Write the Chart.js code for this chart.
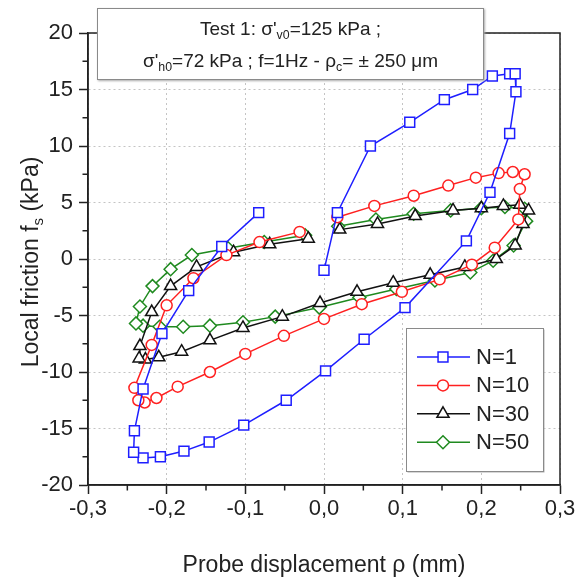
<!DOCTYPE html>
<html>
<head>
<meta charset="utf-8">
<script src="https://cdn.jsdelivr.net/npm/chart.js@4.4.1/dist/chart.umd.min.js"></script>
<style>
    html, body { margin: 0; padding: 0; background: #fff; }
    #wrap { position: relative; width: 579px; height: 580px; }
    #infoBox {
        position: absolute; left: 97px; top: 8px; width: 387px; height: 72px;
        box-sizing: border-box; border: 1px solid #8a8a8a; box-shadow: 1px 1px 2px #aaa;
        background: #fff; text-align: center; padding-top: 4px;
        font-family: "Liberation Sans", Arial, sans-serif; font-size: 19px; line-height: 32px; color: #222;
    }
    #infoBox sub, #yTitle sub { font-size: 0.65em; vertical-align: -0.35em; line-height: 0; }
    #yTitle {
        position: absolute; left: -120px; top: 248px; width: 300px; height: 28px;
        text-align: center; line-height: 28px; transform: rotate(-90deg);
        font-family: "Liberation Sans", Arial, sans-serif; font-size: 23px; color: #222;
    }
</style>
</head>
<body>
<div id="wrap">
    <canvas id="chart" width="579" height="580"></canvas>
    <div id="infoBox">
        <div>Test 1: σ'<sub>v0</sub>=125 kPa ;</div>
        <div>σ'<sub>h0</sub>=72 kPa ; f=1Hz - ρ<sub>c</sub>= ± 250 μm</div>
    </div>
    <div id="yTitle">Local friction f<sub>s</sub> (kPa)</div>
</div>
<script>
const family = '"Liberation Sans", Arial, sans-serif';

// axes
const xTicks = [-0.3, -0.2, -0.1, 0, 0.1, 0.2, 0.3];
const yTicks = [-20, -15, -10, -5, 0, 5, 10, 15, 20];
const xMinorTicks = [-0.25, -0.15, -0.05, 0.05, 0.15, 0.25];
const yMinorTicks = [-17.5, -12.5, -7.5, -2.5, 2.5, 7.5, 12.5, 17.5];

// series
const seriesNames = ['N=1', 'N=10', 'N=30', 'N=50'];

const n1X = [0.0, 0.017, 0.059, 0.109, 0.153, 0.189, 0.214, 0.236, 0.243, 0.244, 0.236, 0.211, 0.181,
    0.103, 0.051, 0.002, -0.048, -0.102, -0.146, -0.178, -0.208, -0.230, -0.242, -0.241, -0.230,
    -0.206, -0.172, -0.130, -0.083];
const n1Y = [-1.0, 4.1, 10.0, 12.1, 14.1, 15.0, 16.2, 16.4, 16.4, 14.8, 11.1, 5.9, 1.6,
    -4.3, -7.1, -9.9, -12.5, -14.7, -16.2, -17.0, -17.5, -17.6, -17.1, -15.2, -11.5,
    -6.6, -2.8, 1.1, 4.1];

const n10X = [0.017, 0.064, 0.114, 0.158, 0.193, 0.222, 0.240, 0.255, 0.249, 0.247, 0.217, 0.188,
    0.147, 0.099, 0.048, 0.0, -0.051, -0.100, -0.145, -0.186, -0.213, -0.228, -0.236, -0.241,
    -0.219, -0.200, -0.166, -0.124, -0.082, -0.031];
const n10Y = [3.7, 4.7, 5.6, 6.5, 7.2, 7.6, 7.7, 7.5, 6.2, 3.5, 1.0, -0.5,
    -1.8, -2.9, -4.0, -5.3, -6.8, -8.4, -10.0, -11.3, -12.3, -12.7, -12.5, -11.4,
    -7.6, -4.1, -1.7, 0.35, 1.5, 2.4];

const n30X = [0.020, 0.068, 0.116, 0.164, 0.200, 0.228, 0.249, 0.260, 0.253, 0.243, 0.219, 0.179,
    0.135, 0.088, 0.042, -0.005, -0.053, -0.103, -0.145, -0.181, -0.210, -0.227, -0.235, -0.234,
    -0.219, -0.195, -0.162, -0.115, -0.069, -0.020];
const n30Y = [2.6, 3.1, 3.8, 4.3, 4.5, 4.7, 4.8, 4.3, 3.1, 1.2, 0.0, -0.7,
    -1.4, -2.1, -2.9, -3.9, -5.1, -6.1, -7.2, -8.2, -8.7, -8.9, -8.8, -7.7,
    -4.7, -2.4, -0.7, 0.6, 1.3, 1.8];

const n50X = [0.018, 0.066, 0.114, 0.161, 0.200, 0.230, 0.255, 0.257, 0.241, 0.215, 0.186, 0.141,
    0.092, 0.045, -0.006, -0.062, -0.103, -0.145, -0.179, -0.209, -0.230, -0.239, -0.234, -0.218,
    -0.195, -0.168, -0.122, -0.076, -0.024];
const n50Y = [2.9, 3.5, 4.0, 4.3, 4.5, 4.6, 4.45, 3.35, 1.2, -0.15, -1.2, -1.9,
    -2.65, -3.4, -4.3, -5.1, -5.6, -5.9, -6.0, -6.0, -5.9, -5.7, -4.2, -2.4,
    -0.9, 0.35, 0.95, 1.5, 2.1];

const colors = ['#1e1eff', '#ff2020', '#111111', '#1f8a1f'];
const markers = ['rect', 'circle', 'triangle', 'rectRot'];
const markerSizes = [7, 5.5, 7, 6.5];

function toPoints(xs, ys) {
    return xs.map((x, i) => ({ x: x, y: ys[i] }));
}

const seriesData = [toPoints(n1X, n1Y), toPoints(n10X, n10Y), toPoints(n30X, n30Y), toPoints(n50X, n50Y)];

// 次刻度、外框和图例
const extrasPlugin = {
    id: 'extras',
    beforeDatasetsDraw(chart) {
        const ctx = chart.ctx;
        const area = chart.chartArea;
        const xs = chart.scales.x, ys = chart.scales.y;
        ctx.save();
        ctx.strokeStyle = '#222';
        ctx.lineWidth = 1.5;
        ctx.beginPath();
        xMinorTicks.forEach(v => {
            const px = xs.getPixelForValue(v);
            ctx.moveTo(px, area.bottom);
            ctx.lineTo(px, area.bottom + 5.5);
        });
        yMinorTicks.forEach(v => {
            const py = ys.getPixelForValue(v);
            ctx.moveTo(area.left - 5.5, py);
            ctx.lineTo(area.left, py);
        });
        ctx.stroke();
        ctx.strokeRect(area.left, area.top, area.right - area.left, area.bottom - area.top);
        ctx.restore();
    },
    afterDatasetsDraw(chart) {
        const ctx = chart.ctx;
        const box = { left: 406, top: 328, width: 137, height: 143 };
        ctx.save();
        ctx.fillStyle = '#b0b0b0';
        ctx.fillRect(box.left + 1.5, box.top + 1.5, box.width, box.height);
        ctx.fillStyle = '#fff';
        ctx.fillRect(box.left, box.top, box.width, box.height);
        ctx.strokeStyle = '#8a8a8a';
        ctx.lineWidth = 1;
        ctx.strokeRect(box.left + 0.5, box.top + 0.5, box.width, box.height);
        seriesNames.forEach((name, i) => {
            const y = 357 + i * 28.4;
            ctx.strokeStyle = colors[i];
            ctx.lineWidth = 1.5;
            ctx.beginPath();
            ctx.moveTo(417, y);
            ctx.lineTo(470, y);
            ctx.stroke();
            ctx.fillStyle = '#fff';
            Chart.helpers.drawPoint(ctx, {
                pointStyle: markers[i], radius: markerSizes[i], rotation: 0, borderWidth: 1.5
            }, 443, y);
            ctx.fillStyle = '#222';
            ctx.font = '22px ' + family;
            ctx.textBaseline = 'middle';
            ctx.textAlign = 'left';
            ctx.fillText(name, 476, y + 1);
        });
        ctx.restore();
    }
};

new Chart(document.getElementById('chart'), {
    type: 'scatter',
    data: {
        datasets: seriesNames.map((name, i) => ({
            label: name,
            data: seriesData[i],
            showLine: true,
            borderColor: colors[i],
            borderWidth: 1.5,
            pointStyle: markers[i],
            pointRadius: markerSizes[i],
            pointBorderWidth: 1.5,
            pointBackgroundColor: '#fff',
            pointBorderColor: colors[i],
            tension: 0
        }))
    },
    options: {
        responsive: false,
        animation: false,
        events: [],
        layout: { padding: { top: 33, right: 19, left: 0, bottom: 0 } },
        plugins: {
            legend: { display: false },
            tooltip: { enabled: false }
        },
        scales: {
            x: {
                type: 'linear',
                min: -0.3,
                max: 0.3,
                afterBuildTicks: scale => { scale.ticks = xTicks.map(v => ({ value: v })); },
                afterFit: scale => { scale.height = 95; },
                ticks: {
                    callback: v => v.toFixed(1).replace('.', ','),
                    font: { family: family, size: 22 },
                    color: '#222',
                    padding: 2,
                    maxRotation: 0,
                    autoSkip: false
                },
                grid: { color: '#c4c4c4', lineWidth: 1, tickColor: '#222', tickLength: 9, tickWidth: 1.5 },
                border: { display: true, color: '#222', width: 1.5, dash: [2, 3] },
                title: {
                    display: true,
                    text: 'Probe displacement ρ (mm)',
                    font: { family: family, size: 23 },
                    color: '#222',
                    padding: { top: 0, bottom: 1 }
                }
            },
            y: {
                type: 'linear',
                min: -20,
                max: 20,
                afterBuildTicks: scale => { scale.ticks = yTicks.map(v => ({ value: v })); },
                afterFit: scale => { scale.width = 88; },
                ticks: {
                    font: { family: family, size: 22 },
                    color: '#222',
                    padding: 6
                },
                grid: { color: '#c4c4c4', lineWidth: 1, tickColor: '#222', tickLength: 9, tickWidth: 1.5 },
                border: { display: true, color: '#222', width: 1.5, dash: [2, 3] }
            }
        }
    },
    plugins: [extrasPlugin]
});
</script>
</body>
</html>
